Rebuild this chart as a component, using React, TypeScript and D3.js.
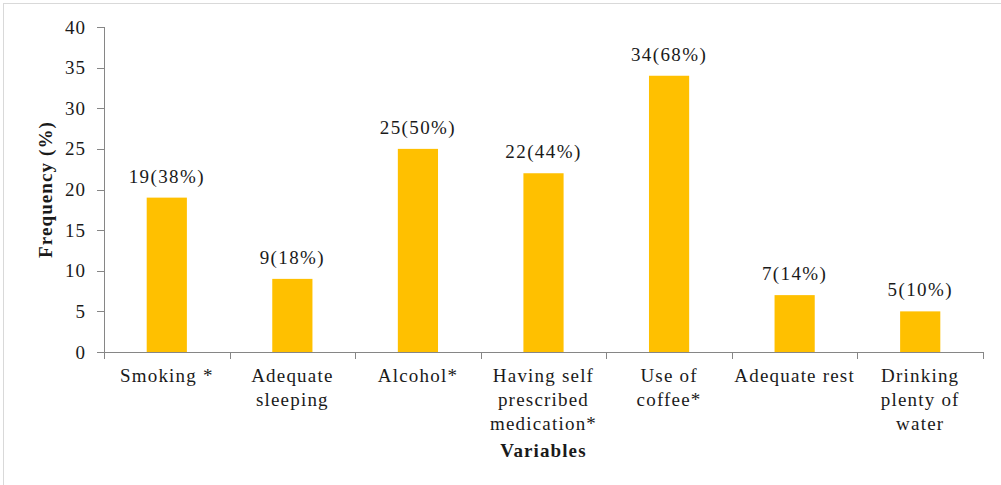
import React, { useEffect, useRef } from 'react';
import * as d3 from 'd3';

const categories = [
  ['Smoking *'],
  ['Adequate', 'sleeping'],
  ['Alcohol*'],
  ['Having self', 'prescribed', 'medication*'],
  ['Use of', 'coffee*'],
  ['Adequate rest'],
  ['Drinking', 'plenty of', 'water'],
];
const frequencies = [19, 9, 25, 22, 34, 7, 5];
const valueLabels = ['19(38%)', '9(18%)', '25(50%)', '22(44%)', '34(68%)', '7(14%)', '5(10%)'];
const yTicks = [0, 5, 10, 15, 20, 25, 30, 35, 40];

const App: React.FC = () => {
  const svgRef = useRef<SVGSVGElement>(null);

  useEffect(() => {
    if (!svgRef.current) return;
    const width = 1001;
    const height = 485;
    const left = 104;
    const right = 983;
    const top = 27;
    const bottom = 352;
    const font = '"Liberation Serif", "Times New Roman", serif';
    const axisColor = '#868686';

    const svg = d3.select(svgRef.current);
    svg.selectAll('*').remove();
    svg.attr('width', width).attr('height', height);

    // outer frame
    svg.append('rect')
      .attr('x', 3.5).attr('y', 3.5)
      .attr('width', width + 10).attr('height', height + 10)
      .attr('fill', 'white')
      .attr('stroke', '#d9d9d9');

    const x = d3.scaleBand<number>()
      .domain(categories.map((_, i) => i))
      .range([left, right])
      .paddingInner(0.68)
      .paddingOuter(0.34);
    const y = d3.scaleLinear().domain([0, 40]).range([bottom, top]);
    const band = (right - left) / categories.length;

    // bars
    svg.append('g')
      .selectAll('rect')
      .data(frequencies)
      .join('rect')
      .attr('x', (_, i) => x(i)!)
      .attr('y', d => y(d))
      .attr('width', x.bandwidth())
      .attr('height', d => bottom - y(d))
      .attr('fill', '#ffc000');

    // value labels
    svg.append('g')
      .selectAll('text')
      .data(frequencies)
      .join('text')
      .attr('x', (_, i) => x(i)! + x.bandwidth() / 2)
      .attr('y', d => y(d) - 15)
      .attr('text-anchor', 'middle')
      .style('font-family', font)
      .style('font-size', '19px')
      .style('letter-spacing', '1.4px')
      .attr('fill', '#1a1a1a')
      .text((_, i) => valueLabels[i]);

    // y axis
    const yAxis = svg.append('g').attr('stroke', axisColor);
    yAxis.append('line')
      .attr('x1', left + 0.5).attr('x2', left + 0.5)
      .attr('y1', top).attr('y2', bottom);
    yAxis.selectAll('line.tick')
      .data(yTicks)
      .join('line')
      .attr('class', 'tick')
      .attr('x1', left - 7).attr('x2', left)
      .attr('y1', d => Math.round(y(d)) + 0.5)
      .attr('y2', d => Math.round(y(d)) + 0.5);

    svg.append('g')
      .selectAll('text')
      .data(yTicks)
      .join('text')
      .attr('x', 86)
      .attr('y', d => y(d) + 6.5)
      .attr('text-anchor', 'end')
      .style('font-family', font)
      .style('font-size', '19px')
      .style('letter-spacing', '1px')
      .attr('fill', '#1a1a1a')
      .text(d => d);

    // x axis
    const xAxis = svg.append('g').attr('stroke', axisColor);
    xAxis.append('line')
      .attr('x1', left).attr('x2', right + 1)
      .attr('y1', bottom + 0.5).attr('y2', bottom + 0.5);
    xAxis.selectAll('line.tick')
      .data(d3.range(categories.length + 1))
      .join('line')
      .attr('class', 'tick')
      .attr('x1', i => Math.round(left + i * band) + 0.5)
      .attr('x2', i => Math.round(left + i * band) + 0.5)
      .attr('y1', bottom)
      .attr('y2', bottom + 7);

    const catG = svg.append('g')
      .selectAll('text')
      .data(categories)
      .join('text')
      .attr('text-anchor', 'middle')
      .style('font-family', font)
      .style('font-size', '19px')
      .style('letter-spacing', '1.2px')
      .attr('fill', '#1a1a1a');
    catG.each(function (lines, i) {
      const t = d3.select(this);
      lines.forEach((ln, j) => {
        t.append('tspan')
          .attr('x', x(i)! + x.bandwidth() / 2)
          .attr('y', 382 + j * 24)
          .text(ln);
      });
    });

    // axis titles
    svg.append('text')
      .attr('x', (left + right) / 2)
      .attr('y', 457)
      .attr('text-anchor', 'middle')
      .style('font-family', font)
      .style('font-size', '19px')
      .style('font-weight', 'bold')
      .style('letter-spacing', '1.1px')
      .attr('fill', '#1a1a1a')
      .text('Variables');

    svg.append('text')
      .attr('transform', `translate(52,${(top + bottom) / 2}) rotate(-90)`)
      .attr('text-anchor', 'middle')
      .style('font-family', font)
      .style('font-size', '19px')
      .style('font-weight', 'bold')
      .style('letter-spacing', '1.1px')
      .attr('fill', '#1a1a1a')
      .text('Frequency (%)');
  }, []);

  return (
    <svg ref={svgRef} style={{ position: 'absolute', left: 0, top: 0, display: 'block' }}></svg>
  );
};

export default App;
